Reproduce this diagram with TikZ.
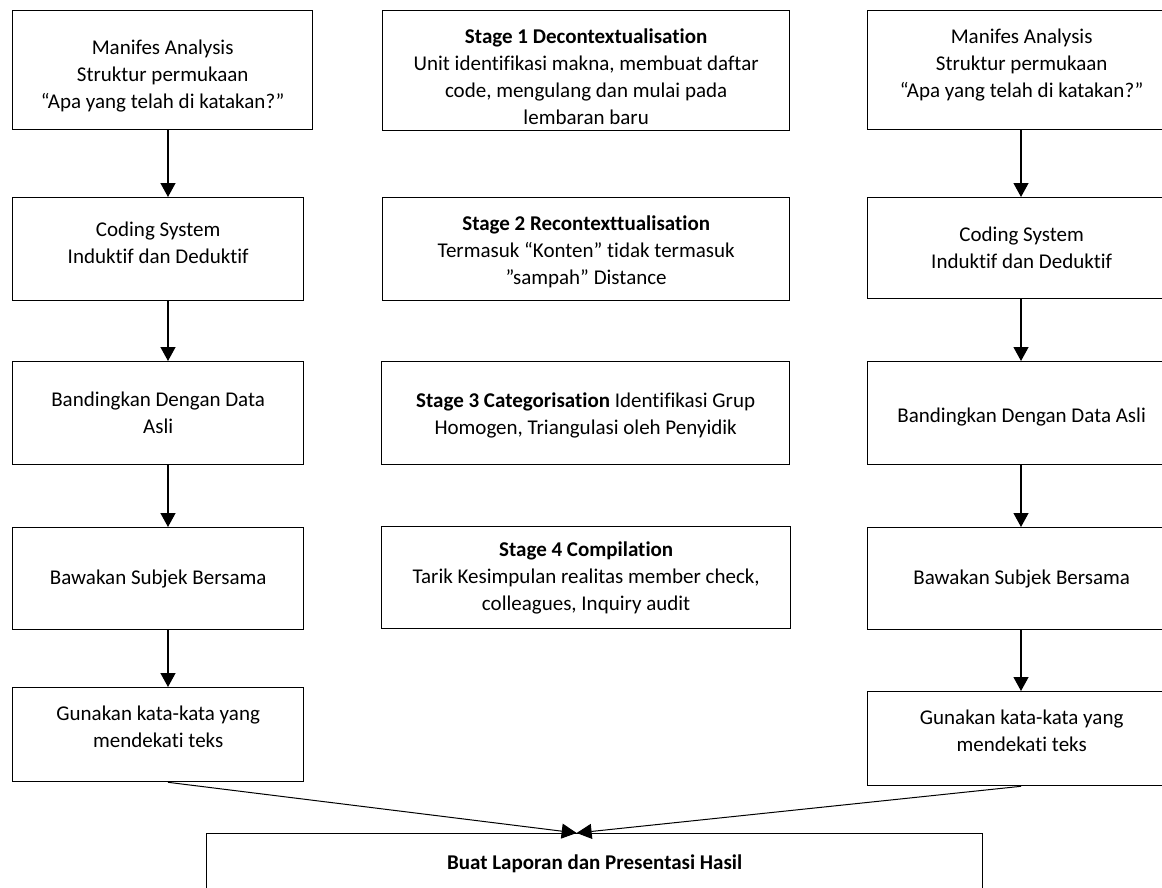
\documentclass[tikz,border=0pt]{standalone}
\usepackage{fontspec}
\setmainfont{Carlito}[Ligatures=NoCommon]
\usetikzlibrary{arrows.meta, positioning}
\tikzset{
    stepbox/.style = {
      draw, line width=1.3pt, inner sep=0pt, anchor=north west,
    },
    steptext/.style = {
      align=center, inner sep=0pt, font=\fontsize{21}{27}\selectfont,
    },
    link/.style = {line width=1.3pt, arrows={-Triangle[length=14pt, width=15pt]}},
    merge link/.style = {line width=1pt, arrows={-Triangle[length=15pt, width=15pt]}},
}
\newcommand{\flowbox}[6]{%
  %% Draw one box of the flow:
  %%    1. Name
  %%    2. North west corner
  %%    3. Width
  %%    4. Height
  %%    5. Shift of the text
  %%    6. Text
  \node [stepbox, minimum width=#3, minimum height=#4] (#1) at (#2) {};
  \node [steptext, yshift=#5] (#1_text) at (#1.center) {#6};
}

\begin{document}
\begin{tikzpicture}[x=1pt, y=-1pt]
    \useasboundingbox (0,0) rectangle (1162,888);
    \clip (0,0) rectangle (1162,888);

    %% Left column
    \flowbox{L1}{12,10}{300pt}{119pt}{-6pt}
      {Manifes Analysis\\Struktur permukaan\\“Apa yang telah di katakan?”}
    \flowbox{L2}{12,197}{291pt}{103pt}{6pt}
      {Coding System\\Induktif dan Deduktif}
    \flowbox{L3}{12,361}{291pt}{103pt}{0pt}
      {Bandingkan Dengan Data\\Asli}
    \flowbox{L4}{12,527}{291pt}{102pt}{0pt}
      {Bawakan Subjek Bersama}
    \flowbox{L5}{12,687}{291pt}{94pt}{8pt}
      {Gunakan kata-kata yang\\mendekati teks}

    %% Middle column with the four stages
    \flowbox{S1}{382,10}{407pt}{120pt}{-6pt}
      {\textbf{Stage 1 Decontextualisation}\\Unit identifikasi makna, membuat daftar\\code, mengulang dan mulai pada\\lembaran baru}
    \flowbox{S2}{382,197}{407pt}{103pt}{-3pt}
      {\textbf{Stage 2 Recontexttualisation}\\Termasuk “Konten” tidak termasuk\\”sampah” Distance}
    \flowbox{S3}{381,361}{408pt}{103pt}{-2pt}
      {\textbf{Stage 3 Categorisation} Identifikasi Grup\\Homogen, Triangulasi oleh Penyidik}
    \flowbox{S4}{381,526}{409pt}{102pt}{0pt}
      {\textbf{Stage 4 Compilation}\\Tarik Kesimpulan realitas member check,\\colleagues, Inquiry audit}

    %% Right column (cut off by the page edge)
    \flowbox{R1}{867,10}{308pt}{119pt}{5pt}
      {Manifes Analysis\\Struktur permukaan\\“Apa yang telah di katakan?”}
    \flowbox{R2}{867,197}{308pt}{101pt}{0pt}
      {Coding System\\Induktif dan Deduktif}
    \flowbox{R3}{867,361}{308pt}{103pt}{-4pt}
      {Bandingkan Dengan Data Asli}
    \flowbox{R4}{867,527}{308pt}{102pt}{0pt}
      {Bawakan Subjek Bersama}
    \flowbox{R5}{867,691}{308pt}{94pt}{8pt}
      {Gunakan kata-kata yang\\mendekati teks}

    %% Final report
    \flowbox{report}{206,833}{776pt}{60pt}{0pt}
      {\textbf{Buat Laporan dan Presentasi Hasil}}

    %% Connect the columns
    \coordinate (lcol) at (168,0);
    \coordinate (rcol) at (1021,0);
    \foreach \a/\b in {1/2,2/3,3/4,4/5}{%
      \draw [link] (L\a.south -| lcol) -- (L\b.north -| lcol);
      \draw [link] (R\a.south -| rcol) -- (R\b.north -| rcol);
    }

    %% Both columns end in the report
    \coordinate (meet) at ([xshift=-18pt] report.north);
    \draw [merge link] (L5.south -| lcol) -- (meet);
    \draw [merge link] (R5.south -| rcol) -- (meet);
\end{tikzpicture}
\end{document}
